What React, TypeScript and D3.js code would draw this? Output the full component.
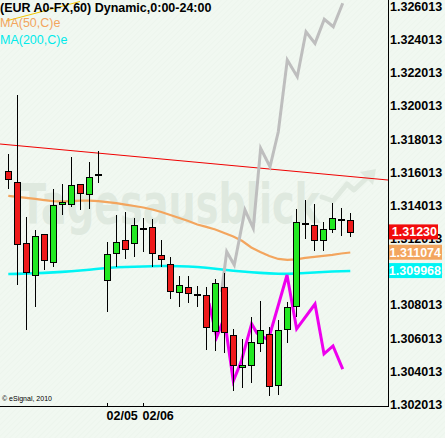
import React from "react";
import * as d3 from "d3";

const W = 445;
const H = 438;

// ---- data ----
const opens = [1.31597, 1.31531, 1.31163, 1.30972, 1.31217, 1.31050, 1.31397, 1.31397, 1.31519, 1.31457, 1.31571, 1.30942, 1.31101, 1.31179, 1.31161, 1.31246, 1.31258, 1.31089, 1.31035, 1.30866, 1.30896, 1.30851, 1.30848, 1.30631, 1.30896, 1.30607, 1.30415, 1.30426, 1.30558, 1.30613, 1.30305, 1.30643, 1.30781, 1.31278, 1.31270, 1.31179, 1.31246, 1.31302, 1.31300];
const highs = [1.31700, 1.32056, 1.31320, 1.31242, 1.31220, 1.31489, 1.31519, 1.31682, 1.31521, 1.31652, 1.31718, 1.31169, 1.31332, 1.31348, 1.31312, 1.31312, 1.31306, 1.31179, 1.31077, 1.30962, 1.30962, 1.30902, 1.30898, 1.30944, 1.30980, 1.30642, 1.30583, 1.30715, 1.30812, 1.30655, 1.30697, 1.30806, 1.31366, 1.31421, 1.31397, 1.31288, 1.31403, 1.31372, 1.31342];
const lows = [1.31489, 1.30910, 1.30639, 1.30777, 1.31000, 1.31018, 1.31332, 1.31380, 1.31362, 1.31368, 1.31523, 1.30749, 1.31020, 1.31065, 1.31081, 1.31111, 1.31020, 1.31020, 1.30824, 1.30779, 1.30800, 1.30779, 1.30518, 1.30509, 1.30498, 1.30269, 1.30287, 1.30317, 1.30508, 1.30239, 1.30245, 1.30558, 1.30719, 1.31186, 1.31113, 1.31113, 1.31222, 1.31205, 1.31201];
const closes = [1.31547, 1.31159, 1.30990, 1.31205, 1.31062, 1.31392, 1.31410, 1.31513, 1.31463, 1.31561, 1.31571, 1.31097, 1.31169, 1.31125, 1.31270, 1.31246, 1.31101, 1.31065, 1.30872, 1.30910, 1.30860, 1.30851, 1.30655, 1.30920, 1.30625, 1.30426, 1.30426, 1.30564, 1.30637, 1.30299, 1.30637, 1.30775, 1.31288, 1.31278, 1.31179, 1.31246, 1.31312, 1.31302, 1.31230];

const ma50 = [1.31447, 1.31441, 1.31435, 1.31429, 1.31422, 1.31416, 1.31413, 1.31416, 1.31419, 1.31419, 1.31416, 1.31410, 1.31404, 1.31395, 1.31386, 1.31377, 1.31365, 1.31350, 1.31332, 1.31314, 1.31296, 1.31275, 1.31260, 1.31245, 1.31223, 1.31202, 1.31175, 1.31136, 1.31109, 1.31085, 1.31067, 1.31061, 1.31064, 1.31073, 1.31079, 1.31085, 1.31091, 1.31100, 1.31106];
const ma200 = [1.30976, 1.30977, 1.30979, 1.30981, 1.30983, 1.30986, 1.30989, 1.30993, 1.30997, 1.31002, 1.31008, 1.31012, 1.31017, 1.31018, 1.31020, 1.31021, 1.31023, 1.31024, 1.31024, 1.31023, 1.31021, 1.31018, 1.31014, 1.31008, 1.31002, 1.30996, 1.30991, 1.30987, 1.30983, 1.30980, 1.30978, 1.30977, 1.30979, 1.30982, 1.30985, 1.30988, 1.30991, 1.30993, 1.30994];

const greyIdx = [23.69, 24.27, 25.11, 26.30, 27.22, 28.04, 29.08, 30.0, 31.0, 32.11, 33.08, 34.08, 35.11, 36.11, 37.16];
const greyPrice = [1.30868, 1.31111, 1.31030, 1.31362, 1.31252, 1.31734, 1.31623, 1.31834, 1.32267, 1.32166, 1.32437, 1.32367, 1.32512, 1.32467, 1.32609];

const magIdx = [22.30, 23.16, 23.69, 24.24, 25.0, 25.86, 27.04, 27.63, 28.89, 30.97, 32.04, 34.08, 35.08, 36.08, 37.16];
const magPrice = [1.30801, 1.30596, 1.30669, 1.30620, 1.30331, 1.30446, 1.30675, 1.30620, 1.30578, 1.30970, 1.30645, 1.30795, 1.30494, 1.30542, 1.30403];

const trendIdx = [-0.922, 42.19];
const trendPrice = [1.31760, 1.31543];

const yTicks = [1.302013, 1.304013, 1.306013, 1.308013, 1.310013, 1.312013, 1.314013, 1.316013, 1.318013, 1.320013, 1.322013, 1.324013, 1.326013];
const dateTickIdx = [11, 15];
const dateTickLabels = ["02/05", "02/06"];

const badgeValues = [1.3123, 1.311074, 1.309968];
const badgeLabels = ["1.31230", "1.311074", "1.309968"];
const badgeColors = ["#F20C0C", "#F3A55E", "#00F4F4"];
const badgeWidths = [49, 53, 53];

const titleText = "(EUR A0-FX,60) Dynamic,0:00-24:00";
const legendLabels = ["MA(50,C)e", "MA(200,C)e"];

// ---- layout ----
const PLOT_R = 388;
const PLOT_B = 406;
const FONT = "'Liberation Sans', Arial, sans-serif";
const UP = "#22E822";
const DOWN = "#EE1A1A";

export default function App() {
  const x = d3.scaleLinear().domain([trendIdx[0], trendIdx[1]]).range([0, PLOT_R]);
  const y = d3.scaleLinear().domain([1.302013, 1.326013]).range([402.5, 4.5]);

  const idx = d3.range(opens.length);
  const lineIdx = d3
    .line<number>()
    .x((i) => x(i))
    .y((i, k) => 0);

  const maLine = (arr: number[]) =>
    d3
      .line<number>()
      .x((_, i) => x(i))
      .y((v) => y(v))(arr) as string;

  const pathLine = (ix: number[], pr: number[]) =>
    d3
      .line<number>()
      .x((v) => x(v))
      .y((_, i) => y(pr[i]))(ix) as string;

  return (
    <div style={{ position: "absolute", left: 0, top: 0 }}>
      <svg width={W} height={H} style={{ display: "block" }}>
        <defs>
          <pattern id="hatch" width="4" height="4" patternUnits="userSpaceOnUse" patternTransform="rotate(45)">
            <rect width="4" height="4" fill="#F1F8F1" />
            <line x1="0" y1="0" x2="0" y2="4" stroke="#E9F2E9" strokeWidth="1" />
          </pattern>
          <clipPath id="plot">
            <rect x={0} y={0} width={PLOT_R} height={PLOT_B} />
          </clipPath>
        </defs>
        <rect x={0} y={0} width={W} height={H} fill="url(#hatch)" />

        {/* watermark */}
        <g fill="#DFE9DF" stroke="none">
          <text
            x={20}
            y={223}
            fontFamily="'DejaVu Sans', sans-serif"
            fontWeight="bold"
            fontSize={56}
            textLength={300}
            lengthAdjust="spacingAndGlyphs"
          >
            Tagesausblick
          </text>
        </g>
        <g fill="none" stroke="#DFE9DF" strokeWidth={5} strokeLinejoin="round" strokeLinecap="round">
          <path d="M322,197 L333,201 L347,184 L354,190 L370,175" />
        </g>
        <path d="M376,169 L360,172 L373,185 Z" fill="#DFE9DF" />

        <g clipPath="url(#plot)">
          {/* yellow helper line */}
          <line x1={6} y1={21} x2={80} y2={1.5} stroke="#F2C500" strokeWidth={1} />

          {/* trend line */}
          <path d={pathLine(trendIdx, trendPrice)} fill="none" stroke="#F00000" strokeWidth={1.2} />

          {/* moving averages */}
          <path d={maLine(ma50)} fill="none" stroke="#F3A55E" strokeWidth={2.2} />
          <path d={maLine(ma200)} fill="none" stroke="#00F4F4" strokeWidth={2.6} />

          {/* projection paths */}
          <path d={pathLine(greyIdx, greyPrice)} fill="none" stroke="#BEBEBE" strokeWidth={3} strokeLinejoin="miter" />
          <path d={pathLine(magIdx, magPrice)} fill="none" stroke="#EE00EE" strokeWidth={3} strokeLinejoin="miter" />

          {/* candles */}
          {idx.map((i) => {
            const cx = Math.round(x(i));
            const o = opens[i];
            const c = closes[i];
            const yTop = Math.round(y(Math.max(o, c)));
            const yBot = Math.round(y(Math.min(o, c)));
            const doji = o === c;
            return (
              <g key={i}>
                <line
                  x1={cx + 0.5}
                  x2={cx + 0.5}
                  y1={Math.round(y(highs[i]))}
                  y2={Math.round(y(lows[i]))}
                  stroke="#000"
                  strokeWidth={1}
                  shapeRendering="crispEdges"
                />
                {doji ? (
                  <rect x={cx - 3} y={yTop - 1} width={7} height={2} fill="#000" shapeRendering="crispEdges" />
                ) : (
                  <rect
                    x={cx - 2.5}
                    y={yTop + 0.5}
                    width={6}
                    height={Math.max(1, yBot - yTop)}
                    fill={c > o ? UP : DOWN}
                    stroke="#000"
                    strokeWidth={1}
                    shapeRendering="crispEdges"
                  />
                )}
              </g>
            );
          })}
        </g>

        {/* axes */}
        <line x1={PLOT_R + 0.5} x2={PLOT_R + 0.5} y1={0} y2={PLOT_B + 0.5} stroke="#000" strokeWidth={1} shapeRendering="crispEdges" />
        <line x1={0} x2={PLOT_R + 0.5} y1={PLOT_B + 0.5} y2={PLOT_B + 0.5} stroke="#000" strokeWidth={1} shapeRendering="crispEdges" />
        {dateTickIdx.map((t, k) => (
          <g key={t}>
            <line
              x1={Math.round(x(t)) + 0.5}
              x2={Math.round(x(t)) + 0.5}
              y1={PLOT_B - 3}
              y2={PLOT_B}
              stroke="#000"
              shapeRendering="crispEdges"
            />
            <text x={Math.round(x(t)) - 0.5} y={420} fontFamily={FONT} fontWeight="bold" fontSize={12.5} fill="#000">
              {dateTickLabels[k]}
            </text>
          </g>
        ))}

        {yTicks.map((t) => (
          <text key={t} x={390} y={y(t) + 2} dy="0.35em" fontFamily={FONT} fontWeight="bold" fontSize={12.5} fill="#000">
            {t.toFixed(6)}
          </text>
        ))}

        {badgeValues.map((v, k) => (
          <g key={k}>
            <rect x={389} y={y(v) - 7.5} width={badgeWidths[k]} height={15} fill={badgeColors[k]} />
            <text
              x={389 + badgeWidths[k] - 1}
              y={y(v)}
              dy="0.36em"
              textAnchor="end"
              fontFamily={FONT}
              fontWeight="bold"
              fontSize={12.5}
              fill="#FFFFFF"
            >
              {badgeLabels[k]}
            </text>
          </g>
        ))}

        {/* legend */}
        <text x={0} y={12} fontFamily={FONT} fontWeight="bold" fontSize={12.5} fill="#000">
          {titleText}
        </text>
        <text x={0} y={27} fontFamily={FONT} fontSize={12.5} fill="#F3A55E">
          {legendLabels[0]}
        </text>
        <text x={0} y={43.5} fontFamily={FONT} fontSize={12.5} fill="#00EAEA">
          {legendLabels[1]}
        </text>

        <text x={2} y={401} fontFamily={FONT} fontSize={7} fill="#000">
          © eSignal, 2010
        </text>
      </svg>
    </div>
  );
}
